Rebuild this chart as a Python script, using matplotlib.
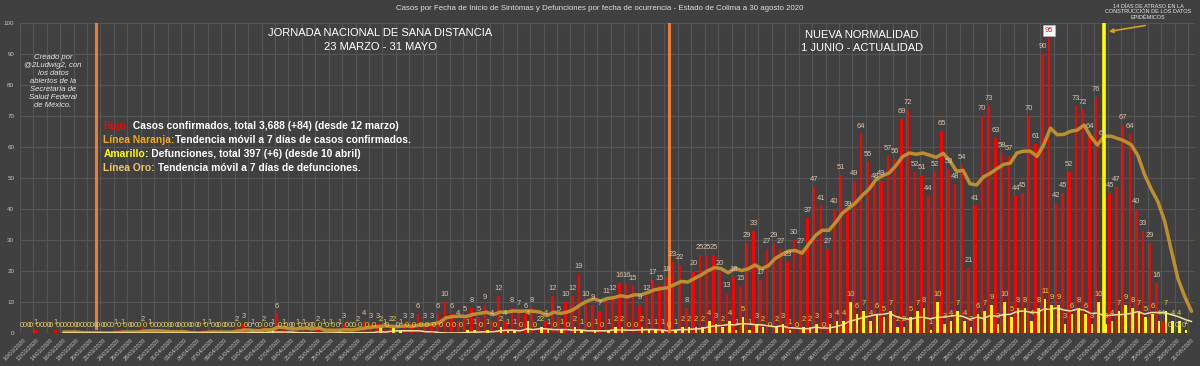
import numpy as np
import pandas as pd
import matplotlib
matplotlib.use('Agg')
import matplotlib.pyplot as plt

plt.rcParams['font.family'] = ['Liberation Sans', 'DejaVu Sans']

nan = float('nan')

# categories: one per day, 10 March - 31 August 2020
dates = pd.date_range('2020-03-10', '2020-08-31', freq='D')
date_labels = [d.strftime('%d/%m/%Y') for d in dates]

# confirmed cases by symptom onset date (10/03 - 30/08)
cases = [0, 0, 1, 0, 0, 1, 0, 0, 0, 0,
         0, 0, 0, 0, 1, 1, 0, 0, 2, 1,
         0, 0, 0, 0, 0, 0, 0, 1, 1, 0,
         0, 0, 2, 3, 0, 0, 2, 0, 6, 1,
         0, 1, 1, 0, 2, 1, 1, 0, 3, 0,
         2, 4, 3, 3, 1, 2, 0, 3, 3, 6,
         3, 3, 6, 10, 6, 4, 5, 8, 5, 9,
         4, 12, 4, 8, 7, 6, 8, 2, 4, 12,
         5, 10, 12, 19, 10, 9, 7, 11, 12, 16,
         16, 15, 9, 12, 17, 15, 18, 23, 22, 8,
         20, 25, 25, 25, 20, 13, 18, 15, 29, 33,
         17, 27, 29, 27, 23, 30, 27, 37, 47, 41,
         27, 40, 51, 39, 49, 64, 55, 48, 49, 57,
         56, 69, 72, 52, 51, 44, 52, 65, 53, 48,
         54, 21, 41, 70, 73, 63, 58, 57, 44, 45,
         70, 61, 90, 95, 42, 45, 52, 73, 72, 64,
         76, 62, 45, 47, 67, 64, 40, 33, 29, 16,
         4, 0, 0, 0]

# deaths by date of occurrence
deaths = [0, 0, 0, 0, 0, 0, 0, 0, 0, 0,
          0, 0, 0, 0, 0, 0, 0, 0, 0, 0,
          0, 0, 0, 0, 0, 0, 0, 0, 0, 0,
          0, 0, 0, 0, 1, 0, 0, 1, 0, 0,
          0, 0, 0, 0, 0, 0, 0, 1, 0, 0,
          0, 0, 0, 2, 0, 2, 1, 0, 0, 0,
          0, 0, 0, 0, 0, 0, 1, 1, 0, 1,
          0, 2, 1, 1, 0, 4, 0, 2, 1, 0,
          1, 0, 2, 1, 0, 1, 0, 1, 2, 2,
          0, 0, 2, 1, 1, 1, 0, 1, 2, 2,
          2, 2, 4, 3, 2, 4, 1, 5, 1, 3,
          2, 0, 2, 3, 1, 0, 2, 2, 3, 0,
          3, 4, 4, 10, 6, 7, 4, 6, 5, 7,
          2, 2, 5, 7, 8, 1, 10, 3, 4, 7,
          4, 2, 6, 7, 9, 3, 10, 5, 8, 8,
          4, 8, 11, 9, 9, 3, 6, 8, 6, 3,
          10, 3, 4, 7, 9, 8, 7, 5, 6, 4,
          7, 4, 4, 1]

# 7-day trend lines as drawn (Linea Naranja / Linea Oro)
cases_ma = [nan, nan, nan, nan, nan, nan, 0.3, 0.3, 0.3, 0.1,
            0.1, 0.1, 0, 0, 0.1, 0.3, 0.3, 0.3, 0.6, 0.7,
            0.7, 0.6, 0.4, 0.4, 0.4, 0.1, 0, 0.1, 0.3, 0.3,
            0.3, 0.3, 0.6, 1.0, 0.9, 0.7, 1.0, 1.0, 1.9, 1.7,
            1.3, 1.4, 1.6, 1.3, 1.6, 0.9, 0.9, 0.9, 1.1, 1.0,
            1.3, 1.6, 1.9, 2.1, 2.3, 2.1, 2.1, 2.3, 2.1, 2.6,
            2.6, 2.9, 3.4, 4.9, 5.3, 5.4, 5.3, 6.0, 6.3, 6.7,
            5.9, 6.7, 6.7, 7.1, 7.0, 7.1, 7.0, 6.7, 5.6, 6.7,
            6.3, 6.7, 7.6, 9.1, 10.3, 11.0, 10.3, 11.1, 11.4, 12.0,
            11.6, 12.3, 12.3, 13.0, 13.9, 14.3, 14.6, 15.6, 16.6, 16.4,
            17.6, 18.7, 20.1, 21.1, 20.7, 19.4, 20.9, 20.1, 20.7, 21.9,
            20.7, 21.7, 24.0, 25.3, 26.4, 26.6, 25.7, 28.6, 31.4, 33.1,
            33.1, 35.6, 38.6, 40.3, 42.0, 44.4, 46.4, 49.4, 50.7, 51.6,
            54.0, 56.9, 58.0, 57.6, 58.0, 57.3, 56.6, 57.9, 55.6, 52.1,
            52.4, 48.1, 47.7, 50.3, 51.4, 52.9, 54.3, 54.7, 58.0, 58.6,
            58.6, 56.9, 60.7, 66.0, 63.9, 64.0, 65.0, 65.4, 67.0, 63.3,
            60.6, 63.4, 63.4, 62.7, 61.9, 60.7, 57.3, 51.1, 46.4, 42.3,
            36.1, 26.6, 17.4, 11.7, 7.0]

deaths_ma = [nan, nan, nan, nan, nan, nan, 0, 0, 0, 0,
             0, 0, 0, 0, 0, 0, 0, 0, 0, 0,
             0, 0, 0, 0, 0, 0, 0, 0, 0, 0,
             0, 0, 0, 0, 0.1, 0.1, 0.1, 0.3, 0.3, 0.3,
             0.3, 0.1, 0.1, 0.1, 0, 0, 0, 0.1, 0.1, 0.1,
             0.1, 0.1, 0.1, 0.4, 0.3, 0.6, 0.7, 0.7, 0.7, 0.7,
             0.4, 0.4, 0.1, 0, 0, 0, 0.1, 0.3, 0.3, 0.4,
             0.4, 0.7, 0.9, 0.9, 0.7, 1.3, 1.1, 1.4, 1.3, 1.1,
             1.1, 1.1, 0.9, 1.0, 0.7, 0.7, 0.7, 0.7, 1.0, 1.0,
             0.9, 0.9, 1.0, 1.1, 1.1, 1.0, 0.7, 0.9, 1.1, 1.1,
             1.3, 1.4, 1.9, 2.3, 2.4, 2.7, 2.6, 3.0, 2.9, 2.7,
             2.6, 2.3, 2.0, 2.3, 1.7, 1.6, 1.4, 1.4, 1.9, 1.6,
             1.6, 2.0, 2.6, 3.7, 4.3, 4.9, 5.4, 5.9, 6.0, 6.4,
             5.3, 4.7, 4.4, 4.9, 5.1, 4.6, 5.0, 5.1, 5.4, 5.7,
             5.3, 4.4, 5.1, 4.7, 5.6, 5.4, 5.9, 6.0, 6.9, 7.1,
             6.7, 6.6, 7.7, 7.6, 8.1, 7.4, 7.1, 7.7, 7.4, 6.3,
             6.4, 5.6, 5.7, 5.9, 6.0, 6.3, 6.9, 6.1, 6.6, 6.6,
             6.6, 5.9, 5.3, 4.4, 3.7]

BG = '#404040'
GRID = '#555555'
RED = '#ff0000'
YELLOW = '#ffff00'
RED_LBL = '#dcc2ae'
YEL_LBL = '#e2d23e'
ORANGE_MA = '#c39330'
GOLD_MA = '#f3e2a2'
VLINE = '#ed7d31'

fig = plt.figure(figsize=(12, 3.66), dpi=100, facecolor=BG)
ax = fig.add_axes([0.0165, 0.0902, 0.9792, 0.8478])
ax.set_facecolor(BG)

x = np.arange(len(dates))
xb = np.arange(len(cases))
off = 0.19

ax.bar(xb - off, cases, width=0.38, color=RED, zorder=2)
ax.bar(xb + off, deaths, width=0.38, color=YELLOW, zorder=3)
ax.plot(x, cases_ma, color=ORANGE_MA, lw=2.5, alpha=0.95, zorder=4,
        solid_capstyle='round')
ax.plot(x, deaths_ma, color=GOLD_MA, lw=1.1, zorder=5)

# period markers
ax.axvline(10.9, ymin=0.015, ymax=1, color=VLINE, lw=2.2, zorder=6)
ax.axvline(96.2, ymin=0, ymax=1, color=VLINE, lw=2.2, zorder=6)
ax.axvline(161, ymin=0, ymax=0.998, color=YELLOW, lw=2.6, zorder=6)

# data labels
for i, v in enumerate(cases):
    kw = {}
    col = RED_LBL
    if v == max(cases):
        kw['bbox'] = dict(boxstyle='square,pad=0.25', fc='white', ec='#bbbbbb', lw=0.4)
        col = RED
    ax.annotate(str(v), (i - off, v), xytext=(0, 5.4), textcoords='offset points',
                ha='center', va='center', fontsize=5.4, color=col, zorder=8, **kw)
for i, v in enumerate(deaths):
    ax.annotate(str(v), (i + off, v), xytext=(0, 5.4), textcoords='offset points',
                ha='center', va='center', fontsize=5.4, color=YEL_LBL, zorder=8)

ax.set_xlim(-0.5, len(dates) - 0.5)
ax.set_ylim(0, 100)
ax.set_yticks(np.arange(0, 101, 10))
ax.set_xticks(x[::2])
ax.set_xticklabels(date_labels[::2], rotation=45, ha='right', rotation_mode='anchor')
ax.set_xticks(np.arange(-0.5, len(dates), 2), minor=True)
ax.tick_params(axis='both', which='both', length=0, colors='#c4c4c4')
ax.tick_params(axis='x', labelsize=4.2, pad=3)
ax.tick_params(axis='y', labelsize=4.5, pad=4)
ax.grid(which='minor', axis='x', color=GRID, lw=0.8, zorder=0)
ax.grid(which='major', axis='y', color=GRID, lw=0.8, zorder=0)
ax.set_axisbelow(True)
for s in ax.spines.values():
    s.set_visible(False)


def fy(py):
    return 1 - py / 366


fig.text(0.5, fy(9), 'Casos por Fecha de Inicio de Sintómas y Defunciones por fecha de '
         'ocurrencia - Estado de Colima a 30 agosto 2020',
         ha='center', va='center', fontsize=5.7, color='#dedede')

fig.text(380 / 1200, fy(33), 'JORNADA NACIONAL DE SANA DISTANCIA', ha='center',
         va='center', fontsize=8, color='white')
fig.text(380 / 1200, fy(46.5), '23 MARZO - 31 MAYO', ha='center',
         va='center', fontsize=8, color='white')
fig.text(862 / 1200, fy(35), 'NUEVA NORMALIDAD', ha='center',
         va='center', fontsize=8, color='white')
fig.text(862 / 1200, fy(47.7), '1 JUNIO - ACTUALIDAD', ha='center',
         va='center', fontsize=8, color='white')

fig.text(53 / 1200, fy(81.3), 'Creado por\n@2Ludwig2, con\nlos datos\nabiertos de la\n'
         'Secretaría de\nSalud Federal\nde México.', ha='center', va='center',
         fontsize=5.6, style='italic', color='#e6e6e6', linespacing=1.2)

fig.text(1148 / 1200, fy(11.7), '14 DÍAS DE ATRASO EN LA\nCONSTRUCCIÓN DE LOS DATOS\n'
         'EPIDÉMICOS', ha='center', va='center', fontsize=4, color='#e6e6e6',
         linespacing=1.1)
ax.annotate('', xy=(1106 / 1200, fy(32)), xycoords='figure fraction',
            xytext=(1148 / 1200, fy(25)), textcoords='figure fraction',
            arrowprops=dict(arrowstyle='-|>', color='#d4a017', lw=1.2,
                            mutation_scale=6))

# legend block, coloured parts on one line
legend_lines = [
    [('Rojo:', RED), (' Casos confirmados, total 3,688 (+84) (desde 12 marzo)', 'white')],
    [('Línea Naranja:', '#f0a81e'), ('Tendencia móvil a 7 días de casos confirmados.', 'white')],
    [('Amarillo', YELLOW), (': Defunciones, total 397 (+6) (desde 10 abril)', 'white')],
    [('Línea Oro:', '#ecc86a'), (' Tendencia móvil a 7 días de defunciones.', 'white')],
]
renderer = fig.canvas.get_renderer()
for row, parts in enumerate(legend_lines):
    xpos = 103.5 / 1200
    for s, c in parts:
        t = fig.text(xpos, fy(128.7 + 14.1 * row), s, ha='left', va='baseline',
                     fontsize=7.4, fontweight='bold', color=c)
        xpos += t.get_window_extent(renderer).width / fig.bbox.width

fig.savefig('out.png', dpi=100, facecolor=BG)
